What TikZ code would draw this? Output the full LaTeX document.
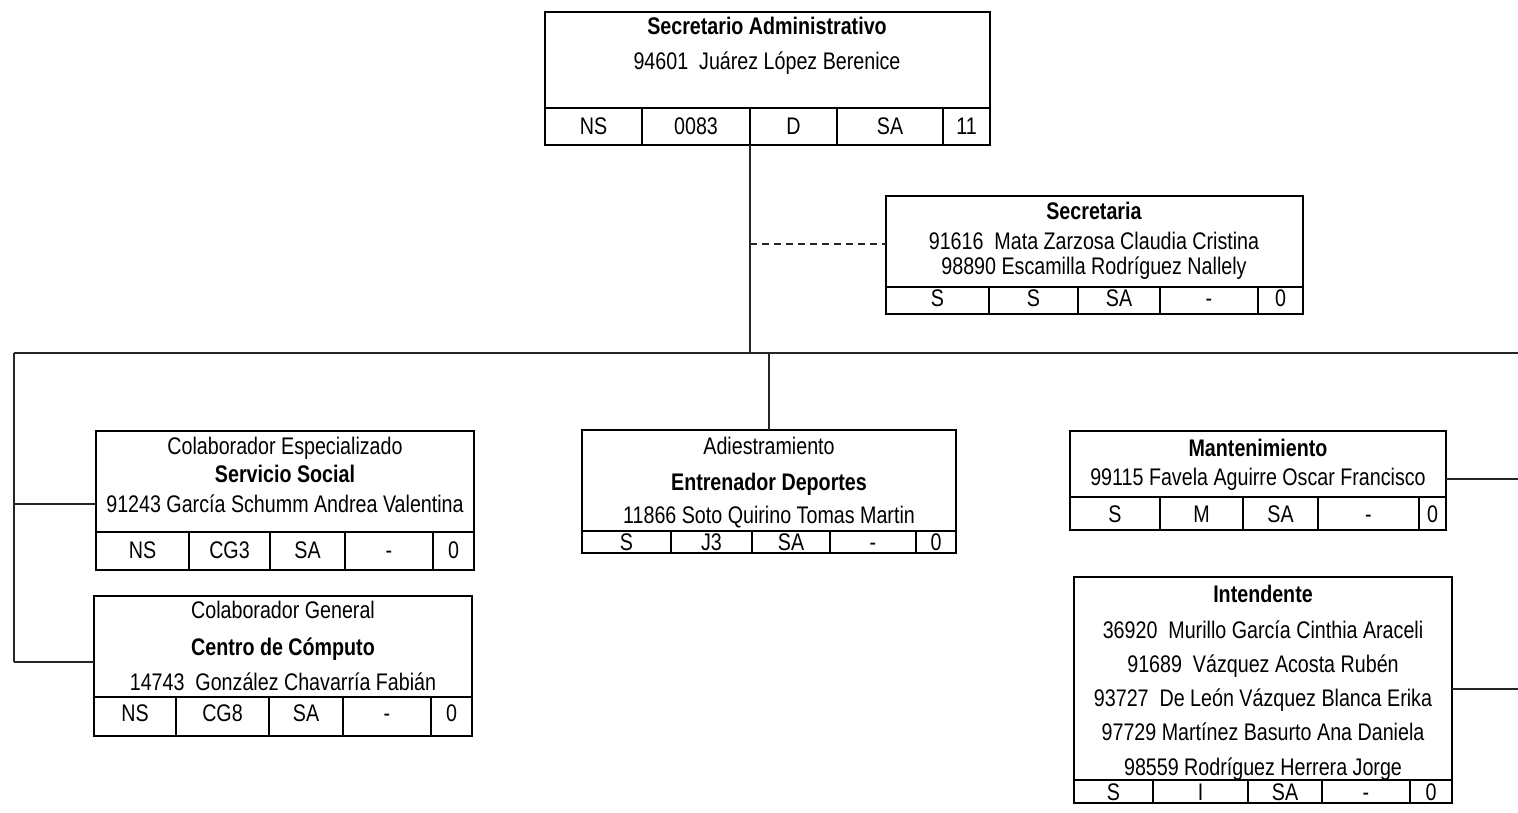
\documentclass[tikz,border=0pt]{standalone}
\usepackage{fontspec}
\setmainfont[FakeStretch=0.82]{Liberation Sans}
\usepackage{tikz}
\usetikzlibrary{positioning}
\tikzset{caja/.style={draw,line width=1.6pt,inner sep=0,outer sep=0,anchor=north west},
  borde/.style={line width=1.6pt},
  linea/.style={line width=1.1pt,black!85},
  txt/.style={inner sep=0,anchor=base},
  celda/.style={inner sep=0,anchor=base}}

\begin{document}
\begin{tikzpicture}[x=1pt,y=-1pt,font=\fontsize{24}{28}\selectfont]
    \useasboundingbox (0,0) rectangle (1518,813);

    % Secretario Administrativo
    \node[caja,minimum width=445pt,minimum height=133pt] (sa) at (545,12) {};
    \node[txt] (sa-t) at (767,35) {\textbf{Secretario Administrativo}};
    \node[txt] (sa-n) at (767,70) {94601\ \ Juárez López Berenice};
    \draw[borde] (545,108) -- (990,108);
    \foreach \a/\b/\t [count=\i] in {545/642/NS,642/750/0083,750/837/D,837/943/SA,943/990/11}{
        \draw[borde] (\b,108) -- (\b,145);
        \node[celda] (sa-\i) at ({(\a+\b)/2},135) {\t};
    }

    % Secretaria
    \node[caja,minimum width=417pt,minimum height=118pt] (sec) at (886,196) {};
    \node[txt] (sec-t) at (1094,220) {\textbf{Secretaria}};
    \node[txt] (sec-n1) at (1094,249) {91616\ \ Mata Zarzosa Claudia Cristina};
    \node[txt] (sec-n2) at (1094,274) {98890 Escamilla Rodríguez Nallely};
    \draw[borde] (886,287) -- (1303,287);
    \foreach \a/\b/\t [count=\i] in {886/989/S,989/1078/S,1078/1160/SA,1160/1258/-,1258/1303/0}{
        \draw[borde] (\b,287) -- (\b,314);
        \node[celda] (sec-\i) at ({(\a+\b)/2},306) {\t};
    }

    % Servicio Social
    \node[caja,minimum width=378pt,minimum height=139pt] (ss) at (96,431) {};
    \node[txt] (ss-t) at (285,454) {Colaborador Especializado};
    \node[txt] (ss-a) at (285,482) {\textbf{Servicio Social}};
    \node[txt] (ss-n) at (285,512) {91243 García Schumm Andrea Valentina};
    \draw[borde] (96,532) -- (474,532);
    \foreach \a/\b/\t [count=\i] in {96/189/NS,189/270/CG3,270/345/SA,345/433/-,433/474/0}{
        \draw[borde] (\b,532) -- (\b,570);
        \node[celda] (ss-\i) at ({(\a+\b)/2},558) {\t};
    }

    % Centro de Computo
    \node[caja,minimum width=378pt,minimum height=140pt] (cc) at (94,596) {};
    \node[txt] (cc-t) at (283,618) {Colaborador General};
    \node[txt] (cc-a) at (283,655) {\textbf{Centro de Cómputo}};
    \node[txt] (cc-n) at (283,690) {14743\ \ González Chavarría Fabián};
    \draw[borde] (94,697) -- (472,697);
    \foreach \a/\b/\t [count=\i] in {94/176/NS,176/269/CG8,269/343/SA,343/431/-,431/472/0}{
        \draw[borde] (\b,697) -- (\b,736);
        \node[celda] (cc-\i) at ({(\a+\b)/2},721) {\t};
    }

    % Adiestramiento
    \node[caja,minimum width=374pt,minimum height=123pt] (ad) at (582,430) {};
    \node[txt] (ad-t) at (769,454) {Adiestramiento};
    \node[txt] (ad-a) at (769,490) {\textbf{Entrenador Deportes}};
    \node[txt] (ad-n) at (769,523) {11866 Soto Quirino Tomas Martin};
    \draw[borde] (582,531) -- (956,531);
    \foreach \a/\b/\t [count=\i] in {582/671/S,671/752/J3,752/830/SA,830/916/-,916/956/0}{
        \draw[borde] (\b,531) -- (\b,553);
        \node[celda] (ad-\i) at ({(\a+\b)/2},550) {\t};
    }

    % Mantenimiento
    \node[caja,minimum width=376pt,minimum height=99pt] (man) at (1070,431) {};
    \node[txt] (man-t) at (1258,456) {\textbf{Mantenimiento}};
    \node[txt] (man-n) at (1258,485) {99115 Favela Aguirre Oscar Francisco};
    \draw[borde] (1070,497) -- (1446,497);
    \foreach \a/\b/\t [count=\i] in {1070/1160/S,1160/1243/M,1243/1318/SA,1318/1419/-,1419/1446/0}{
        \draw[borde] (\b,497) -- (\b,530);
        \node[celda] (man-\i) at ({(\a+\b)/2},522) {\t};
    }

    % Intendente
    \node[caja,minimum width=378pt,minimum height=226pt] (int) at (1074,577) {};
    \node[txt] (int-t) at (1263,602) {\textbf{Intendente}};
    \node[txt] (int-n1) at (1263,638) {36920\ \ Murillo García Cinthia Araceli};
    \node[txt] (int-n2) at (1263,672) {91689\ \ Vázquez Acosta Rubén};
    \node[txt] (int-n3) at (1263,706) {93727\ \ De León Vázquez Blanca Erika};
    \node[txt] (int-n4) at (1263,740) {97729 Martínez Basurto Ana Daniela};
    \node[txt] (int-n5) at (1263,775) {98559 Rodríguez Herrera Jorge};
    \draw[borde] (1074,780) -- (1452,780);
    \foreach \a/\b/\t [count=\i] in {1074/1153/S,1153/1248/I,1248/1322/SA,1322/1410/-,1410/1452/0}{
        \draw[borde] (\b,780) -- (\b,803);
        \node[celda] (int-\i) at ({(\a+\b)/2},800) {\t};
    }

    % lineas
    \coordinate (c1) at (750,353);
    \coordinate (d1) at (750,244);
    \coordinate (bl) at (14,353);
    \coordinate (br) at (1518,353);
    \coordinate (b1) at (14,504);
    \coordinate (b2) at (14,662);
    \coordinate (r1) at (1518,479);
    \coordinate (r2) at (1518,689);

    \draw[linea] (sa.south -| c1) -- (c1);
    \draw[linea,dashed,dash pattern=on 7pt off 5pt] (d1) -- (sec.west |- d1);
    \draw[linea] (bl) -- (br);
    \draw[linea] (bl) -- (b2);
    \draw[linea] (b1) -- (ss.west |- b1);
    \draw[linea] (b2) -- (cc.west |- b2);
    \draw[linea] (c1 -| ad.north) -- (ad.north);
    \draw[linea] (man.east |- r1) -- (r1);
    \draw[linea] (int.east |- r2) -- (r2);
\end{tikzpicture}
\end{document}
